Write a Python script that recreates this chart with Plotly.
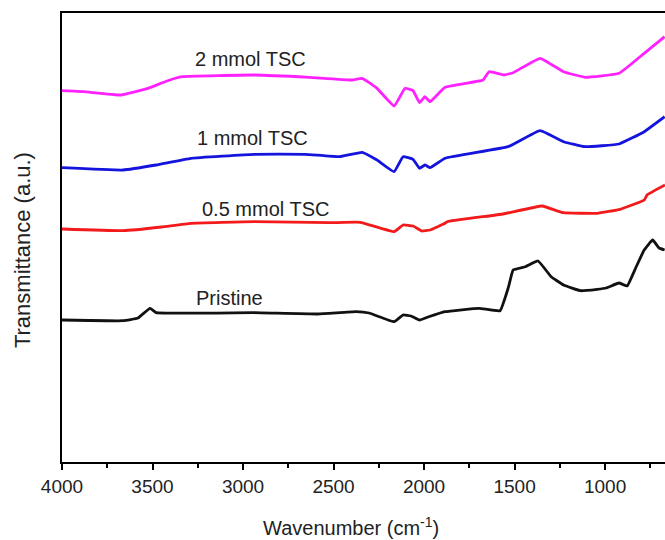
import plotly.graph_objects as go

# Wavenumber (cm^-1) and transmittance (arbitrary, offset) values
pristine_x = [4000, 3850, 3663, 3580, 3514, 3480, 2939, 2586, 2376, 2304, 2165, 2116, 2072, 2025, 1978,
              1884, 1696, 1580, 1533, 1508, 1440, 1370, 1298, 1229, 1135, 1044, 994, 923, 878, 831,
              784, 737, 702, 671]
pristine_y = [142, 141.5, 141.3, 144, 153.7, 149.3, 149.3, 148, 150.3, 149, 140.3, 147, 146, 142, 145,
              150.3, 153.7, 151.3, 175.3, 192, 195.3, 201, 185.3, 177, 171.3, 172.7, 174, 179, 176, 194,
              212, 222, 214, 212]

tsc05_x = [4000, 3663, 3450, 3288, 2939, 2519, 2353, 2165, 2116, 2060, 2013, 1967, 1884, 1873, 1563, 1348,
           1232, 1044, 917, 784, 768, 669]
tsc05_y = [233, 231.3, 235, 238.7, 240.3, 239.3, 239.7, 230.3, 237, 236, 231, 232, 238.7, 240.3, 248, 256,
           249.3, 248.7, 252.7, 262, 267, 277]

tsc1_x = [4000, 3663, 3480, 3288, 2939, 2657, 2470, 2342, 2260, 2165, 2116, 2061, 2025, 1995, 1967, 1884,
          1536, 1359, 1229, 1111, 923, 784, 671]
tsc1_y = [294.3, 292, 297, 303.7, 307.7, 307.7, 305.3, 309.7, 302, 290.3, 305.3, 302.7, 293.7, 297, 294.3, 303.7,
          315.3, 331.3, 320.3, 315.3, 318, 330.3, 345.3]

tsc2_x = [4000, 3880, 3674, 3525, 3420, 3337, 2939, 2635, 2398, 2342, 2260, 2165, 2105, 2061, 2025, 1995,
          1967, 1884, 1674, 1641, 1558, 1508, 1359, 1229, 1111, 923, 784, 671]
tsc2_y = [371.3, 370.3, 367, 373.7, 381, 385.3, 387, 384.7, 382, 383.7, 373.7, 356, 373.7, 371.3, 359.3, 365.3,
          360.3, 374.7, 382, 390.3, 387, 389.3, 403.7, 390.3, 384.7, 388.7, 408.7, 425.3]

series = [
    ("Pristine", pristine_x, pristine_y, "#111111"),
    ("0.5 mmol TSC", tsc05_x, tsc05_y, "#f21a1a"),
    ("1 mmol TSC", tsc1_x, tsc1_y, "#1414dc"),
    ("2 mmol TSC", tsc2_x, tsc2_y, "#ff22ff"),
]

# label positions (wavenumber, value)
label_pos = {
    "2 mmol TSC": (2961, 403),
    "1 mmol TSC": (2950, 324),
    "0.5 mmol TSC": (2878, 253),
    "Pristine": (3077, 164),
}

tick_vals = [4000, 3500, 3000, 2500, 2000, 1500, 1000]
tick_text = ["4000", "3500", "3000", "2500", "2000", "1500", "1000"]

FONT = "Liberation Sans, Arial, sans-serif"
TXT = "#222222"

fig = go.Figure()
for name, xs, ys, col in series:
    fig.add_trace(go.Scatter(x=xs, y=ys, mode="lines", name=name,
                             line=dict(color=col, width=2.8, shape="spline", smoothing=0.3),
                             showlegend=False))
    lx, ly = label_pos[name]
    fig.add_annotation(x=lx, y=ly, text=name, showarrow=False,
                       font=dict(family=FONT, size=20, color=TXT))

# axis titles as annotations for precise placement
fig.add_annotation(xref="paper", yref="paper", x=0.479, y=-0.143, xanchor="center", yanchor="middle",
                   text="Wavenumber (cm<sup>-1</sup>)", showarrow=False,
                   font=dict(family=FONT, size=20, color=TXT))
fig.add_annotation(xref="paper", yref="paper", x=-0.0663, y=0.472, xanchor="center", yanchor="middle",
                   text="Transmittance (a.u.)", textangle=-90, showarrow=False,
                   font=dict(family=FONT, size=22, color=TXT))

fig.update_layout(
    width=665, height=540,
    margin=dict(l=62, r=0, t=13, b=78),
    paper_bgcolor="white", plot_bgcolor="white",
    font=dict(family=FONT, color=TXT),
    xaxis=dict(
        range=[4000, 669], showgrid=False, zeroline=False,
        showline=True, linecolor="black", linewidth=2, mirror=True,
        ticks="outside", ticklen=6, tickwidth=2, tickcolor="black",
        tickvals=tick_vals, ticktext=tick_text,
        tickfont=dict(family=FONT, size=19, color=TXT),
        minor=dict(ticks="outside", ticklen=4, tickwidth=2, tickcolor="black", dtick=250, tick0=0,
                   showgrid=False),
    ),
    yaxis=dict(
        range=[0, 449], showgrid=False, zeroline=False,
        showline=True, linecolor="black", linewidth=2, mirror=False,
        ticks="", showticklabels=False,
    ),
)

fig.write_html("out.html")
